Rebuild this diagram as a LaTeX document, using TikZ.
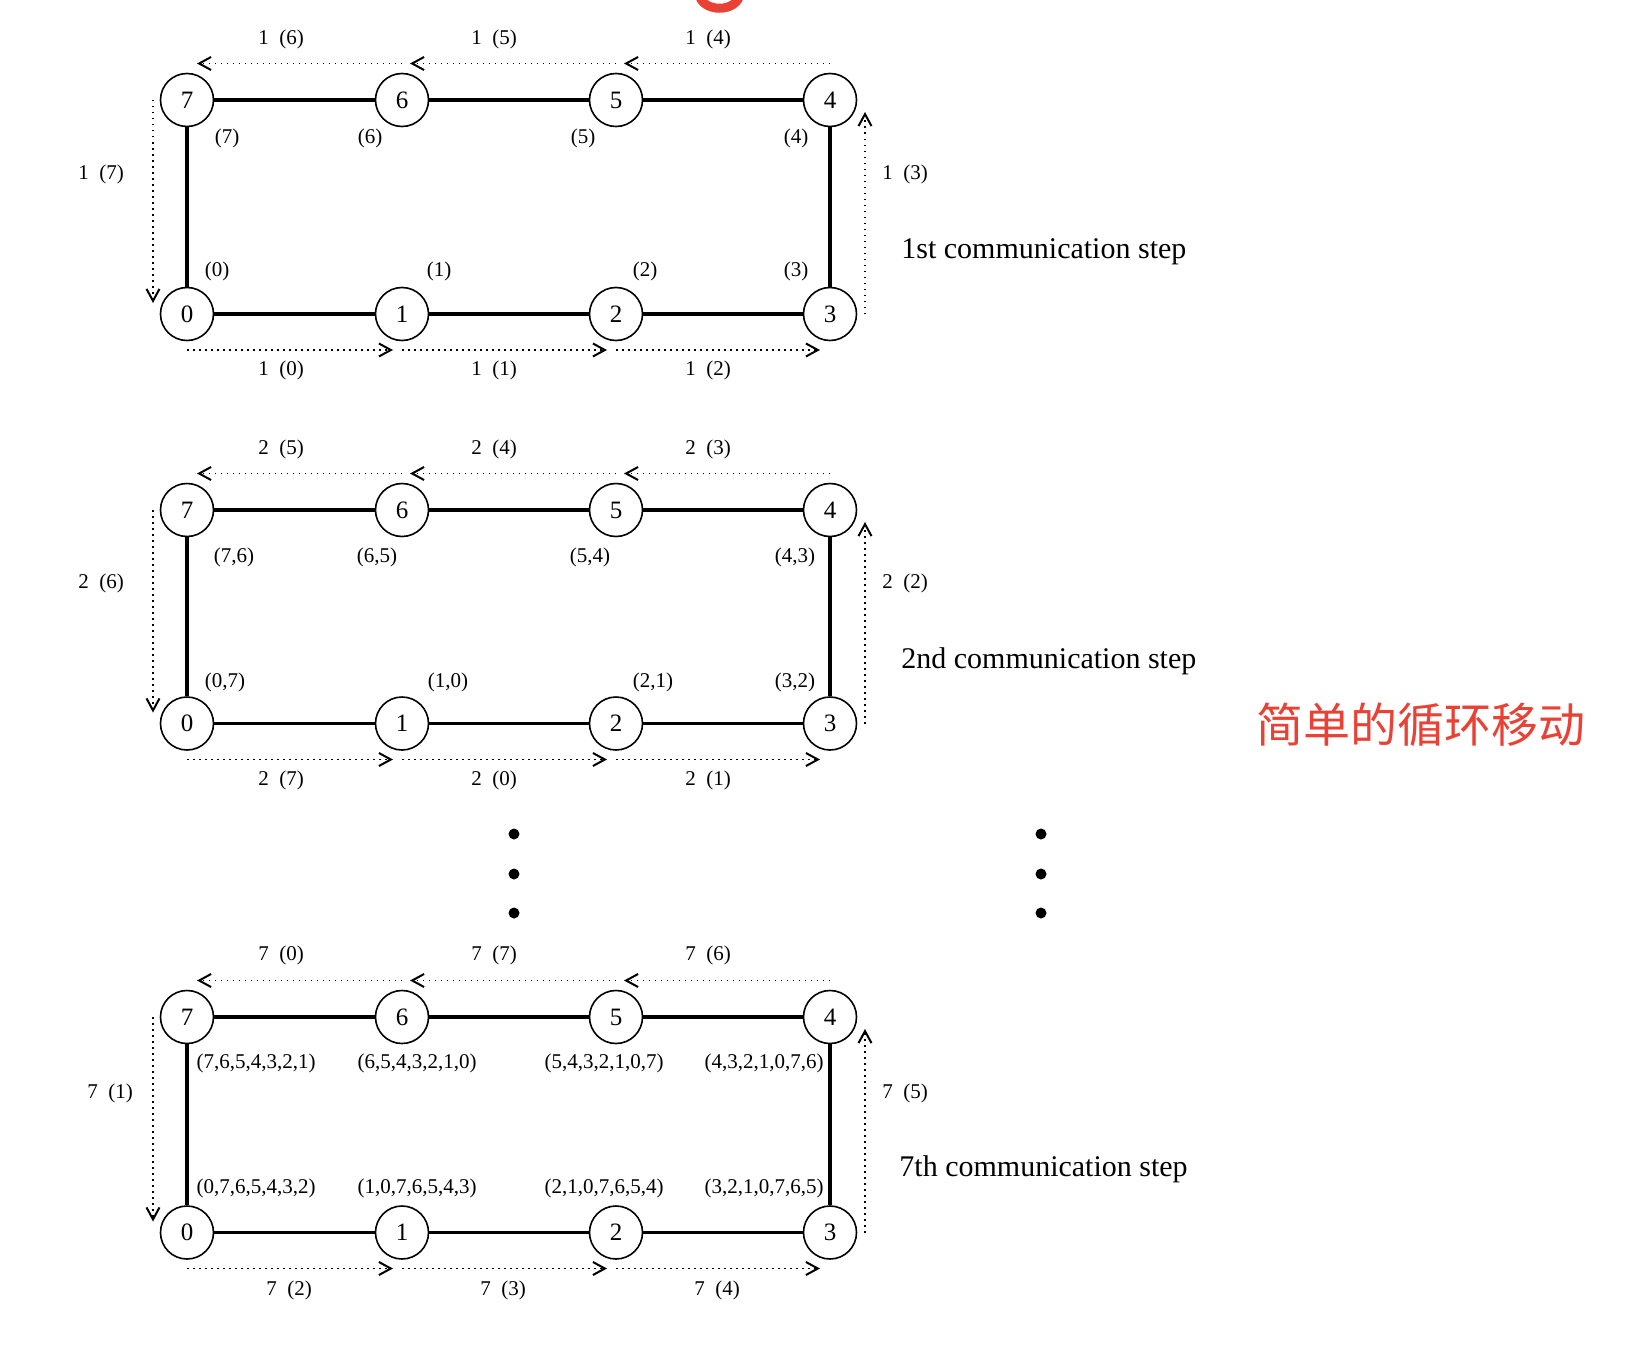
\documentclass[tikz,border=0pt]{standalone}
\usepackage{fontspec}
\setmainfont{Liberation Serif}
\newfontfamily\cjkfont{Noto Sans CJK SC}
\usetikzlibrary{arrows.meta, calc}
\definecolor{notered}{RGB}{233,66,52}

\begin{document}
\begin{tikzpicture}[x=0.5pt, y=0.5pt,
  proc/.style={circle, draw, line width=0.8pt, minimum size=26.5pt, inner sep=0pt, font=\fontsize{12.5}{14}\selectfont},
  link/.style={line width=1.6pt},
  flow/.style={line width=0.75pt, dash pattern=on 0.75pt off 2.25pt, -{Straight Barb[length=6pt, width=6.5pt, line width=1pt]}},
  lbl/.style={font=\fontsize{10.5}{12}\selectfont, inner sep=0pt},
  steptext/.style={font=\fontsize{15}{18}\selectfont, anchor=west, inner sep=0pt}]
  \useasboundingbox (0,0) rectangle (1632,-1354);

  % cut-off title above
  \begin{scope}
    \clip (0,0) rectangle (1632,-1354);
    \draw[notered, line width=4.5pt] (699,6) .. controls (702,-13) and (737,-13) .. (740,6);
  \end{scope}

  % 1st step
  \node[proc] (a7) at (187,-100) {7};
  \node[proc] (a6) at (402,-100) {6};
  \node[proc] (a5) at (616,-100) {5};
  \node[proc] (a4) at (830,-100) {4};
  \node[proc] (a0) at (187,-314) {0};
  \node[proc] (a1) at (402,-314) {1};
  \node[proc] (a2) at (616,-314) {2};
  \node[proc] (a3) at (830,-314) {3};
  \draw[link] (a0) -- (a1) -- (a2) -- (a3) -- (a4) -- (a5) -- (a6) -- (a7) -- (a0);

  \draw[flow] ($(a4)+(0,36.5)$) -- ($(a5)+(8,36.5)$);
  \draw[flow] ($(a5)+(0,36.5)$) -- ($(a6)+(8,36.5)$);
  \draw[flow] ($(a6)+(0,36.5)$) -- ($(a7)+(10,36.5)$);
  \draw[flow] ($(a7)+(-34,0)$) -- ($(a0)+(-34,11)$);
  \draw[flow] ($(a0)+(0,-36)$) -- ($(a1)+(-9,-36)$);
  \draw[flow] ($(a1)+(0,-36)$) -- ($(a2)+(-9,-36)$);
  \draw[flow] ($(a2)+(0,-36)$) -- ($(a3)+(-10,-36)$);
  \draw[flow] ($(a3)+(35,0)$) -- ($(a4)+(35,-12)$);

  \node[lbl] (a7d) at (227,-138) {(7)};
  \node[lbl] (a6d) at (370,-138) {(6)};
  \node[lbl] (a5d) at (583,-138) {(5)};
  \node[lbl] (a4d) at (796,-138) {(4)};
  \node[lbl] (a0d) at (217,-271) {(0)};
  \node[lbl] (a1d) at (439,-271) {(1)};
  \node[lbl] (a2d) at (645,-271) {(2)};
  \node[lbl] (a3d) at (796,-271) {(3)};

  \node[lbl] (a76) at (281,-39.5) {1\enspace(6)};
  \node[lbl] (a65) at (494,-39.5) {1\enspace(5)};
  \node[lbl] (a54) at (708,-39.5) {1\enspace(4)};
  \node[lbl] (a70) at (101,-174) {1\enspace(7)};
  \node[lbl] (a34) at (905,-174) {1\enspace(3)};
  \node[lbl] (a01) at (281,-370.5) {1\enspace(0)};
  \node[lbl] (a12) at (494,-370.5) {1\enspace(1)};
  \node[lbl] (a23) at (708,-370.5) {1\enspace(2)};

  \node[steptext] (astep) at (901,-252) {1st communication step};

  % 2nd step
  \node[proc] (b7) at (187,-510) {7};
  \node[proc] (b6) at (402,-510) {6};
  \node[proc] (b5) at (616,-510) {5};
  \node[proc] (b4) at (830,-510) {4};
  \node[proc] (b0) at (187,-723.5) {0};
  \node[proc] (b1) at (402,-723.5) {1};
  \node[proc] (b2) at (616,-723.5) {2};
  \node[proc] (b3) at (830,-723.5) {3};
  \draw[link] (b0) -- (b1) -- (b2) -- (b3) -- (b4) -- (b5) -- (b6) -- (b7) -- (b0);

  \draw[flow] ($(b4)+(0,36.5)$) -- ($(b5)+(8,36.5)$);
  \draw[flow] ($(b5)+(0,36.5)$) -- ($(b6)+(8,36.5)$);
  \draw[flow] ($(b6)+(0,36.5)$) -- ($(b7)+(10,36.5)$);
  \draw[flow] ($(b7)+(-34,0)$) -- ($(b0)+(-34,11)$);
  \draw[flow] ($(b0)+(0,-36)$) -- ($(b1)+(-9,-36)$);
  \draw[flow] ($(b1)+(0,-36)$) -- ($(b2)+(-9,-36)$);
  \draw[flow] ($(b2)+(0,-36)$) -- ($(b3)+(-10,-36)$);
  \draw[flow] ($(b3)+(35,0)$) -- ($(b4)+(35,-12)$);

  \node[lbl] (b7d) at (234,-557) {(7,6)};
  \node[lbl] (b6d) at (377,-557) {(6,5)};
  \node[lbl] (b5d) at (590,-557) {(5,4)};
  \node[lbl] (b4d) at (795,-557) {(4,3)};
  \node[lbl] (b0d) at (225,-682) {(0,7)};
  \node[lbl] (b1d) at (448,-682) {(1,0)};
  \node[lbl] (b2d) at (653,-682) {(2,1)};
  \node[lbl] (b3d) at (795,-682) {(3,2)};

  \node[lbl] (b76) at (281,-449) {2\enspace(5)};
  \node[lbl] (b65) at (494,-449) {2\enspace(4)};
  \node[lbl] (b54) at (708,-449) {2\enspace(3)};
  \node[lbl] (b70) at (101,-583) {2\enspace(6)};
  \node[lbl] (b34) at (905,-583) {2\enspace(2)};
  \node[lbl] (b01) at (281,-780) {2\enspace(7)};
  \node[lbl] (b12) at (494,-780) {2\enspace(0)};
  \node[lbl] (b23) at (708,-780) {2\enspace(1)};

  \node[steptext] (bstep) at (901,-661) {2nd communication step};

  % skipped steps
  \fill (514,-834) circle (5.5);
  \fill (514,-874) circle (5.5);
  \fill (514,-913) circle (5.5);
  \fill (1041,-834) circle (5.5);
  \fill (1041,-874) circle (5.5);
  \fill (1041,-913) circle (5.5);

  \node[font=\cjkfont\fontsize{23.5}{26}\selectfont, text=notered, inner sep=0pt] (note) at (1421,-725) {简单的循环移动};

  % 7th step
  \node[proc] (c7) at (187,-1017) {7};
  \node[proc] (c6) at (402,-1017) {6};
  \node[proc] (c5) at (616,-1017) {5};
  \node[proc] (c4) at (830,-1017) {4};
  \node[proc] (c0) at (187,-1232.5) {0};
  \node[proc] (c1) at (402,-1232.5) {1};
  \node[proc] (c2) at (616,-1232.5) {2};
  \node[proc] (c3) at (830,-1232.5) {3};
  \draw[link] (c0) -- (c1) -- (c2) -- (c3) -- (c4) -- (c5) -- (c6) -- (c7) -- (c0);

  \draw[flow] ($(c4)+(0,36.5)$) -- ($(c5)+(8,36.5)$);
  \draw[flow] ($(c5)+(0,36.5)$) -- ($(c6)+(8,36.5)$);
  \draw[flow] ($(c6)+(0,36.5)$) -- ($(c7)+(10,36.5)$);
  \draw[flow] ($(c7)+(-34,0)$) -- ($(c0)+(-34,11)$);
  \draw[flow] ($(c0)+(0,-36)$) -- ($(c1)+(-9,-36)$);
  \draw[flow] ($(c1)+(0,-36)$) -- ($(c2)+(-9,-36)$);
  \draw[flow] ($(c2)+(0,-36)$) -- ($(c3)+(-10,-36)$);
  \draw[flow] ($(c3)+(35,0)$) -- ($(c4)+(35,-12)$);

  \node[lbl] (c7d) at (256,-1063) {(7,6,5,4,3,2,1)};
  \node[lbl] (c6d) at (417,-1063) {(6,5,4,3,2,1,0)};
  \node[lbl] (c5d) at (604,-1063) {(5,4,3,2,1,0,7)};
  \node[lbl] (c4d) at (764,-1063) {(4,3,2,1,0,7,6)};
  \node[lbl] (c0d) at (256,-1188) {(0,7,6,5,4,3,2)};
  \node[lbl] (c1d) at (417,-1188) {(1,0,7,6,5,4,3)};
  \node[lbl] (c2d) at (604,-1188) {(2,1,0,7,6,5,4)};
  \node[lbl] (c3d) at (764,-1188) {(3,2,1,0,7,6,5)};

  \node[lbl] (c76) at (281,-955.5) {7\enspace(0)};
  \node[lbl] (c65) at (494,-955.5) {7\enspace(7)};
  \node[lbl] (c54) at (708,-955.5) {7\enspace(6)};
  \node[lbl] (c70) at (110,-1093) {7\enspace(1)};
  \node[lbl] (c34) at (905,-1093) {7\enspace(5)};
  \node[lbl] (c01) at (289,-1290) {7\enspace(2)};
  \node[lbl] (c12) at (503,-1290) {7\enspace(3)};
  \node[lbl] (c23) at (717,-1290) {7\enspace(4)};

  \node[steptext] (cstep) at (899,-1169) {7th communication step};
\end{tikzpicture}
\end{document}
